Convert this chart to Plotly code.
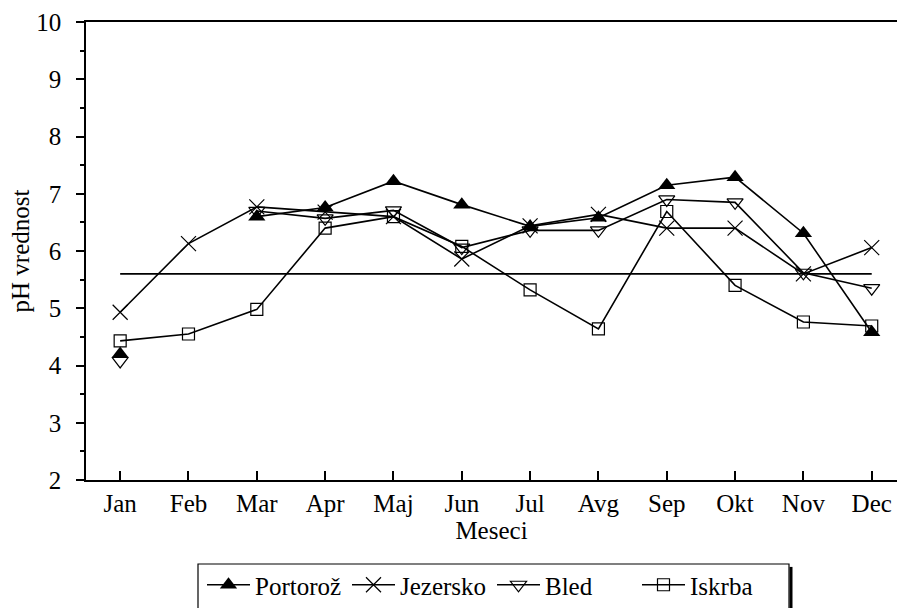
import plotly.graph_objects as go

MONTHS = ["Jan", "Feb", "Mar", "Apr", "Maj", "Jun", "Jul", "Avg", "Sep", "Okt", "Nov", "Dec"]
PORTOROZ = [4.20, None, 6.60, 6.76, 7.22, 6.81, 6.43, 6.58, 7.15, 7.29, 6.31, 4.58]
JEZERSKO = [4.93, 6.13, 6.77, 6.68, 6.60, 5.86, 6.44, 6.64, 6.40, 6.40, 5.60, 6.06]
BLED = [4.08, None, 6.70, 6.57, 6.71, 6.06, 6.36, 6.36, 6.90, 6.85, 5.62, 5.35]
ISKRBA = [4.43, 4.55, 4.98, 6.40, 6.60, 6.08, 5.32, 4.64, 6.69, 5.40, 4.76, 4.69]
REF_LEVEL = 5.6
Y_TICKS = [2, 3, 4, 5, 6, 7, 8, 9, 10]

FONT = "Liberation Serif"
FS = 25
fig = go.Figure()

series = [
    ("Portorož", PORTOROZ, dict(symbol="triangle-up", size=15, color="black")),
    ("Jezersko", JEZERSKO, dict(symbol="x-thin-open", size=15, color="black", line=dict(width=1.2, color="black"))),
    ("Bled", BLED, dict(symbol="triangle-down-open", size=14, color="black", line=dict(width=1.2, color="black"))),
    ("Iskrba", ISKRBA, dict(symbol="square-open", size=12, color="black", line=dict(width=1.2, color="black"))),
]
for name, vals, mk in series:
    fig.add_trace(go.Scatter(x=MONTHS, y=vals, name=name, mode="lines+markers",
                             line=dict(color="black", width=1.6), marker=mk,
                             connectgaps=False))

fig.add_trace(go.Scatter(x=MONTHS, y=[REF_LEVEL] * len(MONTHS), mode="lines",
                         line=dict(color="black", width=1.6), showlegend=False,
                         hoverinfo="skip"))

L, T, B, W, H = 86, 22, 117, 897, 608
PW = W - L
PH = H - T - B
BOT = H - B


def px_x(x):
    return (x - L) / PW


def px_y(y):
    return (BOT - y) / PH


fig.update_layout(
    width=W, height=H,
    paper_bgcolor="white", plot_bgcolor="white",
    margin=dict(l=L, r=0, t=T, b=B),
    font=dict(family=FONT, size=FS, color="black"),
    showlegend=True,
    legend=dict(orientation="h", x=px_x(202), xanchor="left", y=px_y(575), yanchor="top",
                borderwidth=0, bgcolor="rgba(0,0,0,0)",
                font=dict(family=FONT, size=FS, color="black"),
                entrywidth=87, itemwidth=43, tracegroupgap=0),
    xaxis=dict(type="category", categoryorder="array", categoryarray=MONTHS,
               range=[-0.5, 11.37], showline=True, linecolor="black", linewidth=1.5,
               mirror=True, ticks="inside", ticklen=9, tickcolor="black", tickwidth=1.5,
               showgrid=False, zeroline=False, automargin=False,
               title=dict(text="Meseci", standoff=2, font=dict(family=FONT, size=FS)),
               tickfont=dict(family=FONT, size=FS)),
    xaxis2=dict(type="linear", overlaying="x", anchor="y", range=[-0.5, 11.37],
                tickvals=list(range(12)), showticklabels=False, ticks="outside",
                ticklen=7, tickcolor="black", tickwidth=1.5, showline=False,
                showgrid=False, zeroline=False, automargin=False),
    yaxis=dict(range=[2, 10], tickvals=Y_TICKS, showline=True, linecolor="black",
               linewidth=1.5, ticks="outside", ticklen=8, tickcolor="black", tickwidth=1.5,
               minor=dict(dtick=0.5, ticks="outside", ticklen=4, tickcolor="black", tickwidth=1.5),
               showgrid=False, zeroline=False, ticklabelstandoff=10, automargin=False,
               title=dict(text="pH vrednost", standoff=0, font=dict(family=FONT, size=FS)),
               tickfont=dict(family=FONT, size=FS)),
    yaxis2=dict(range=[2, 10], overlaying="y", anchor="x", side="left",
                tickvals=Y_TICKS, showticklabels=False, ticks="inside", ticklen=8,
                tickcolor="black", tickwidth=1.5, automargin=False,
                minor=dict(dtick=0.5, ticks="inside", ticklen=5, tickcolor="black", tickwidth=1.5),
                showline=False, showgrid=False, zeroline=False),
)

# legend frame with right-hand shadow
fig.add_shape(type="rect", xref="paper", yref="paper", x0=px_x(198), x1=px_x(789),
              y0=px_y(577), y1=px_y(640), line=dict(color="black", width=1.2),
              fillcolor="rgba(0,0,0,0)", layer="below")
fig.add_shape(type="line", xref="paper", yref="paper", x0=px_x(791), x1=px_x(791),
              y0=px_y(580), y1=px_y(640), line=dict(color="black", width=3))

fig.write_html("out.html", config={"displayModeBar": False},
               post_script="document.body.style.margin='0';document.body.style.overflow='hidden';")
